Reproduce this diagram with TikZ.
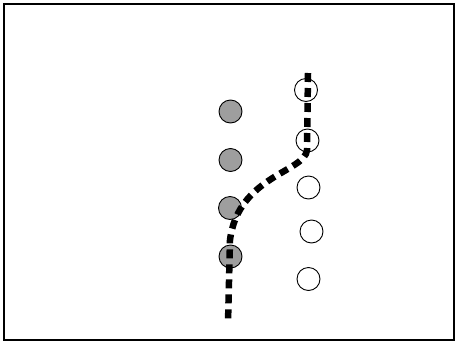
\documentclass[tikz,border=0pt]{standalone}
\begin{document}
\begin{tikzpicture}[x=1pt,y=-1pt,
  filledball/.style={circle,draw=black,line width=0.9pt,fill=black!38,minimum size=23pt,inner sep=0pt},
  openball/.style={circle,draw=black,line width=0.9pt,fill=none,minimum size=23pt,inner sep=0pt},
  pathline/.style={line width=6.5pt,dash pattern=on 9pt off 6pt,line cap=butt}]
\useasboundingbox (0,0) rectangle (457,343);
\draw[line width=1.2pt] (4,4) rectangle (454,340);
\node[filledball] (f1) at (230.5,111.5) {};
\node[filledball] (f2) at (230.5,160) {};
\node[filledball] (f3) at (230,208) {};
\node[filledball] (f4) at (230.5,256.5) {};
\node[openball] (o1) at (306,90) {};
\node[openball] (o2) at (307.5,140.5) {};
\node[openball] (o3) at (308.5,187.5) {};
\node[openball] (o4) at (311.5,231.5) {};
\node[openball] (o5) at (308.5,279) {};
\coordinate (top) at (308,73);
\coordinate (bend) at (307,150);
\coordinate (low) at (230,240);
\coordinate (bottom) at (228,323);
\draw[pathline] (top) -- (bend) .. controls (305,172) and (238,176) .. (low) -- (bottom);
\end{tikzpicture}
\end{document}
